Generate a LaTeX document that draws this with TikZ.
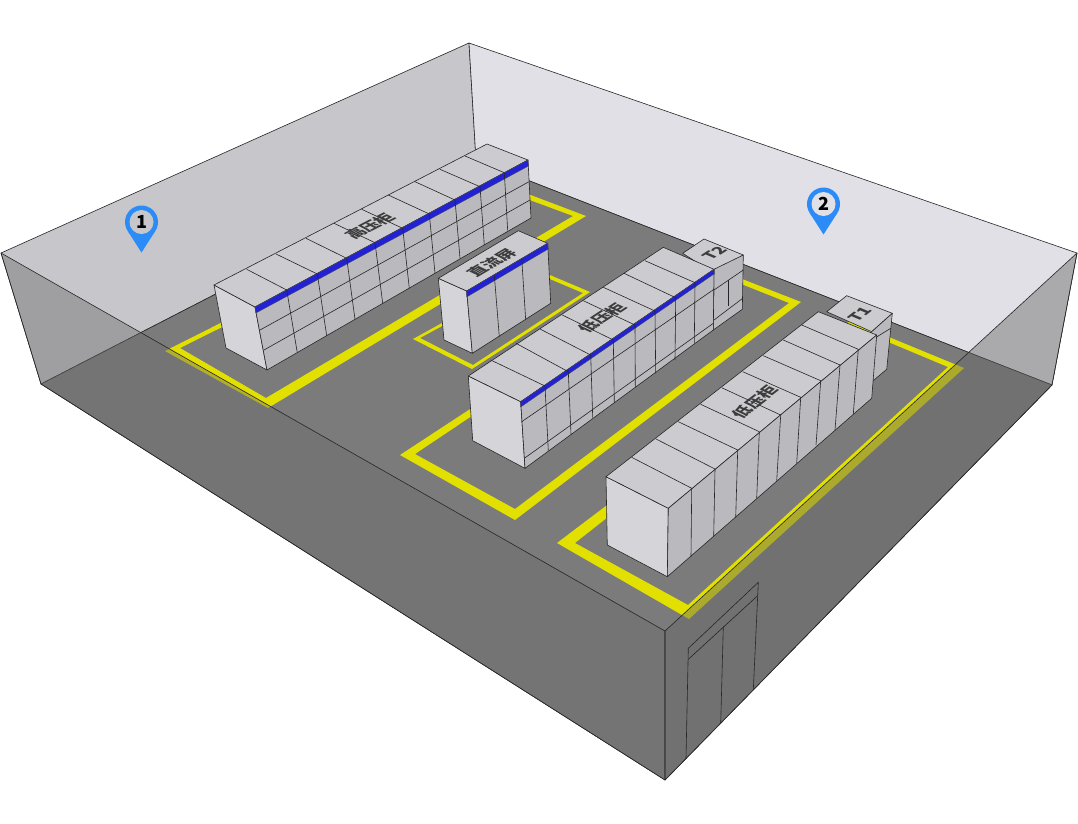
\documentclass[tikz,border=0pt]{standalone}
\usepackage{fontspec}
\newfontfamily\cjk{Noto Sans CJK SC}
\definecolor{wallleft}{HTML}{C6C6CB}
\definecolor{wallright}{HTML}{E0E0E6}
\definecolor{floorgrey}{HTML}{7B7B7B}
\definecolor{lineyellow}{HTML}{E2E000}
\definecolor{topface}{HTML}{CBCBD0}
\definecolor{endface}{HTML}{D4D4D9}
\definecolor{frontface}{HTML}{B9B9BE}
\definecolor{bandblue}{HTML}{2222D4}
\definecolor{pinblue}{HTML}{2B8CF8}
\definecolor{labelgrey}{HTML}{3C3C3C}
\tikzset{
edge/.style={draw=black!85,line width=0.6pt,line join=round},
cabtop/.style={edge,fill=topface},
cabend/.style={edge,fill=endface},
cabfront/.style={edge,fill=frontface},
band/.style={fill=bandblue,draw=black!70,line width=0.3pt},
cablabel/.style={text=labelgrey,inner sep=0pt,font=\cjk\bfseries\fontsize{16}{16}\selectfont},
pinnum/.style={text=black,inner sep=0pt,font=\cjk\bfseries\fontsize{18}{18}\selectfont}
}
\begin{document}
\begin{tikzpicture}[x=1pt,y=-1pt]
\path[use as bounding box,fill=white] (0,0) rectangle (1078,823);
\coordinate (wl) at (1,253);
\coordinate (wb) at (469,43);
\coordinate (wr) at (1077,253);
\coordinate (wf) at (665,631);
\coordinate (fl) at (41,384);
\coordinate (fb) at (476,160);
\coordinate (fr) at (1052,385);
\coordinate (ff) at (665,780);
\filldraw[edge,fill=wallleft] (wl)--(wb)--(fb)--(fl)--cycle;
\filldraw[edge,fill=wallright] (wb)--(wr)--(fr)--(fb)--cycle;
\filldraw[edge,fill=floorgrey] (fb)--(fr)--(ff)--(fl)--cycle;
\fill[lineyellow,even odd rule] (165,351)--(268,408)--(586,216)--(499,183)--cycle (180,348)--(266,398)--(573,216)--(500,189)--cycle;
\fill[lineyellow,even odd rule] (413,339)--(472,369)--(590,292)--(538,270)--cycle (420,338)--(473,365)--(583,293)--(538,274)--cycle;
\fill[lineyellow,even odd rule] (400,455)--(515,520)--(801,302)--(696,261)--cycle (415,454)--(515,509)--(789,303)--(696,266)--cycle;
\fill[lineyellow,even odd rule] (557,543)--(689,619)--(964,368)--(850,321)--cycle (575,543)--(688,605)--(948,367)--(850,326)--cycle;
\filldraw[edge,fill=black!58,fill opacity=0.42] (wl)--(wf)--(ff)--(fl)--cycle;
\filldraw[edge,fill=black!60,fill opacity=0.44] (wr)--(wf)--(ff)--(fr)--cycle;
\draw[edge] (688.3,648.3)--(758.3,582.3)--(753.3,690);
\draw[edge] (688.3,648.3)--(686,758.3);
\draw[edge] (688.3,659.3)--(757.3,596);
\draw[edge] (723.3,626.7)--(720.7,723.3);
\filldraw[cabend] (214,285)--(255,307)--(267,370)--(226,348)--cycle;
\filldraw[cabtop] (214,285)--(487,144)--(528,160)--(255,307)--cycle;
\filldraw[cabfront] (255,307)--(528,160)--(531,218)--(267,370)--cycle;
\fill[band] (255,307)--(528,160)--(528.5,166)--(256,313)--cycle;
\draw[edge] (260,330)--(529,181.7);
\draw[edge] (264,350)--(530,200);
\foreach \xa/\ya/\xb/\yb/\xc/\yc in {246.7/269.3/286.7/290/297.3/352.7,276/254/317.3/274/326.7/335.7,306/238.3/346.7/258.3/355/319.3,334/223.3/375/242.7/382.7/303.3,361.7/209.3/402.7/228.3/409.3/288.3,388.3/195/429.3/214/435/273.3,415/181.7/455/200/460/258.3,440/169.3/480/186.7/484.3/245,465/156/504.3/172.7/507.7/230.7}
\draw[edge] (\xa,\ya)--(\xb,\yb)--(\xc,\yc);
\node[cablabel,cm={0.89,0.46,-0.9,0.44,(0,0)}] (hvlabel) at (370,226) {高压柜};
\filldraw[cabend] (438.3,278.3)--(466.7,291)--(472.3,353.3)--(444,340)--cycle;
\filldraw[cabtop] (438.3,278.3)--(518.3,230.7)--(547.7,243.3)--(466.7,291)--cycle;
\filldraw[cabfront] (466.7,291)--(547.7,243.3)--(550.7,303.3)--(472.3,353.3)--cycle;
\fill[band] (466.7,291)--(547.7,243.3)--(548.3,249)--(466.7,297)--cycle;
\foreach \xb/\yb/\xc/\yc in {494.3/275/499.3/336.7,521.7/258.3/525.7/320}
\draw[edge] (\xb,\yb)--(\xc,\yc);
\node[cablabel,cm={0.86,0.51,-0.9,0.42,(0,0)}] (dclabel) at (492,263) {直流屏};
\filldraw[cabtop] (682.7,253.3)--(704,239)--(743.3,255)--(714,273.3)--cycle;
\filldraw[cabfront] (714,269.3)--(743.3,255)--(742.3,309.3)--(713.3,330)--cycle;
\draw[edge] (714,290)--(743.3,270);
\draw[edge] (714,320)--(742.7,298.3);
\draw[edge] (728.3,280)--(728.3,306);
\node[cablabel,cm={0.84,0.54,-0.9,0.38,(0,0)}] (ttwolabel) at (715,253) {T2};
\filldraw[cabend] (468.3,376)--(520.7,401.7)--(525,468.3)--(472.7,440.7)--cycle;
\filldraw[cabtop] (468.3,376)--(663.3,247.3)--(714,269.3)--(520.7,401.7)--cycle;
\filldraw[cabfront] (520.7,401.7)--(714,269.3)--(713.3,330)--(525,468.3)--cycle;
\fill[band] (520.7,401.7)--(714,269.3)--(714,274)--(520.7,407)--cycle;
\draw[edge] (521.7,421.7)--(714,289.3);
\draw[edge] (524.3,458.3)--(713.3,323.3);
\foreach \xa/\ya/\xb/\yb/\xc/\yc in {490.7/360/545/386/548.3/450.7,516/343.3/568.3/371.7/571/434.3,540/329/590.7/355/592.7/417.7,562.3/315/613.3/340/614.3/402.3,583.3/300.7/635/325/635.3/387.3,603.3/287.3/655/311/655.7/373.3,624/273.3/675.7/297.7/675/360,645/260.7/695/282.7/694.3/343.3}
\draw[edge] (\xa,\ya)--(\xb,\yb)--(\xc,\yc);
\node[cablabel,cm={0.835,0.55,-0.9,0.42,(0,0)}] (lvonelabel) at (602,318) {低压柜};
\filldraw[cabtop] (826.7,311.7)--(846.7,295.7)--(892.3,313.3)--(871.7,331.7)--cycle;
\filldraw[cabfront] (871.7,331.7)--(892.3,313.3)--(886.7,369.3)--(868,385)--cycle;
\draw[edge] (871.7,340)--(890.7,328.3);
\node[cablabel,cm={0.79,0.61,-0.9,0.38,(0,0)}] (tonelabel) at (860,314) {T1};
\filldraw[cabend] (606,476.7)--(668.3,508.3)--(667.3,576.7)--(607.3,545)--cycle;
\filldraw[cabtop] (606,476.7)--(818.3,311.7)--(876.7,335)--(668.3,508.3)--cycle;
\filldraw[cabfront] (668.3,508.3)--(876.7,335)--(871.7,398.3)--(667.3,576.7)--cycle;
\foreach \xa/\ya/\xb/\yb/\xc/\yc in {631.7/457.3/691.7/488.3/691/556.7,656/439/715/469/713.7/536,678.3/421.7/737.7/450/735.7/517.3,700.7/404.3/759.3/431.7/756.7/498.3,721.7/387.7/780.7/415/776.7/480.7,742.7/371.7/800.7/397.3/796.7/463.3,763.3/355.7/820.7/380.7/816/445,783.3/340/840/365/835/430,801.7/325/858.3/349.3/853.3/414}
\draw[edge] (\xa,\ya)--(\xb,\yb)--(\xc,\yc);
\node[cablabel,cm={0.79,0.61,-0.9,0.42,(0,0)}] (lvtwolabel) at (755,402) {低压柜};
\foreach \px/\py/\num/\pinbg in {141.5/222/1/wallleft,823.5/204/2/wallright}{
\fill[pinblue] (\px,\py) circle[radius=16.5];
\fill[pinblue] (\px-13.8,\py+9)--(\px+13.8,\py+9)--(\px,\py+30.5)--cycle;
\fill[\pinbg] (\px,\py) circle[radius=12];
\node[pinnum] (pin\num) at (\px,\py) {\num};
}
\end{tikzpicture}
\end{document}
